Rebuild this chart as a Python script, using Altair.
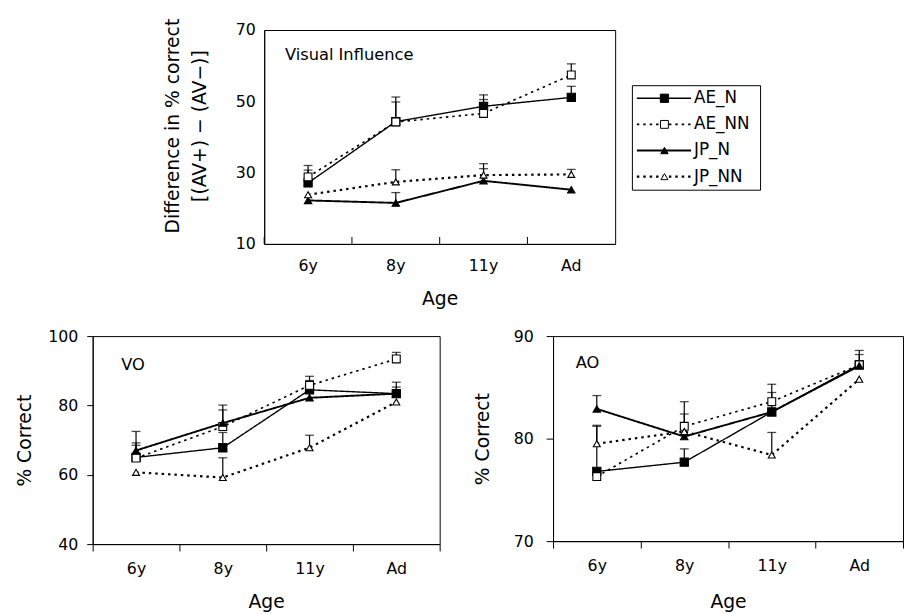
import altair as alt
import pandas as pd

ages = ["6y", "8y", "11y", "Ad"]
series = ["AE_N", "AE_NN", "JP_N", "JP_NN"]
panel_labels = ["Visual Influence", "VO", "AO"]

# Visual Influence panel: means and upper error-bar ends
vi_vals = {
    "AE_N": [27.1, 44.3, 48.6, 51.1],
    "AE_NN": [28.8, 44.2, 46.6, 57.4],
    "JP_N": [22.2, 21.5, 27.7, 25.2],
    "JP_NN": [23.8, 27.4, 29.3, 29.5],
}
vi_hi = {
    "AE_N": [30.7, 49.8, 51.8, 54.2],
    "AE_NN": [32.0, 51.2, 50.5, 60.5],
    "JP_N": [None, 24.4, 31.1, None],
    "JP_NN": [None, 30.8, 32.5, 30.9],
}

# VO panel
vo_vals = {
    "AE_N": [65.0, 67.8, 84.5, 83.4],
    "AE_NN": [64.8, 73.9, 85.8, 93.4],
    "JP_N": [67.0, 74.9, 82.2, 83.4],
    "JP_NN": [60.7, 59.2, 67.8, 81.0],
}
vo_hi = {
    "AE_N": [69.2, 72.2, 87.2, 86.7],
    "AE_NN": [68.5, 78.7, 88.4, 95.3],
    "JP_N": [72.5, 80.1, None, 85.3],
    "JP_NN": [None, 64.9, 71.4, None],
}

# AO panel
ao_vals = {
    "AE_N": [76.8, 77.7, 82.6, 87.2],
    "AE_NN": [76.3, 81.2, 83.6, 87.2],
    "JP_N": [82.9, 80.2, 82.6, 87.1],
    "JP_NN": [79.5, 80.7, 78.4, 85.8],
}
ao_hi = {
    "AE_N": [81.2, 79.0, 84.5, 88.2],
    "AE_NN": [None, 83.6, 85.3, 88.6],
    "JP_N": [84.2, 82.4, None, None],
    "JP_NN": [81.3, None, 80.6, None],
}

FONT = "DejaVu Sans"


def make_df(vals, his):
    rows = []
    for s in series:
        for a, v, h in zip(ages, vals[s], his[s]):
            rows.append({"series": s, "age": a, "val": v, "hi": h})
    return pd.DataFrame(rows)


shape_scale = alt.Scale(domain=series, range=["square", "square", "triangle-up", "triangle-up"])
fill_scale = alt.Scale(domain=series, range=["black", "white", "black", "white"])
dash_scale = alt.Scale(domain=series, range=[[1, 0], [2.5, 4], [1, 0], [2.5, 4]])
width_scale = alt.Scale(domain=series, range=[1.4, 2.2, 1.4, 2.2])
size_scale = alt.Scale(domain=series, range=[70, 50, 100, 85])


def panel(df, ydom, yaxis, xaxis, w, h, label, lx, ly, inward_ticks=False):
    xs = alt.Scale(type="band", domain=ages, paddingInner=0, paddingOuter=0)
    x = alt.X("age:N", sort=ages, scale=xs, axis=xaxis, bandPosition=0.5)
    ys = alt.Scale(domain=ydom, nice=False, zero=False)
    y = alt.Y("val:Q", scale=ys, axis=yaxis)
    base = alt.Chart(df)
    lines = base.mark_line(color="black").encode(
        x=x, y=y,
        strokeDash=alt.StrokeDash("series:N", scale=dash_scale, legend=None),
        strokeWidth=alt.StrokeWidth("series:N", scale=width_scale, legend=None),
    )
    errs = base.transform_filter("isValid(datum.hi)").mark_rule(color="black", strokeWidth=1.2).encode(
        x=x, y=y, y2=alt.Y2("hi:Q")
    )
    caps = base.transform_filter("isValid(datum.hi)").mark_tick(
        color="black", thickness=1.3, size=9, orient="horizontal"
    ).encode(x=x, y=alt.Y("hi:Q", scale=ys, axis=yaxis))
    pts = base.mark_point(filled=True, stroke="black", strokeWidth=1.1, opacity=1).encode(
        x=x, y=y,
        shape=alt.Shape("series:N", scale=shape_scale, legend=None),
        fill=alt.Fill("series:N", scale=fill_scale, legend=None),
        size=alt.Size("series:N", scale=size_scale, legend=None),
    )
    txt = alt.Chart(pd.DataFrame({"t": [label]})).mark_text(
        align="left", baseline="middle", fontSize=16.5, font=FONT, color="black"
    ).encode(x=alt.value(lx), y=alt.value(ly), text="t:N")
    layers = [lines, errs, caps, pts, txt]
    if inward_ticks:
        tk = alt.Chart(pd.DataFrame({"age": ages})).mark_rule(color="black", strokeWidth=1).encode(
            x=alt.X("age:N", sort=ages, scale=xs, axis=xaxis, bandPosition=0),
            y=alt.value(h), y2=alt.value(h - 7),
        )
        layers.append(tk)
    return alt.layer(*layers).properties(width=w, height=h)


# Top panel
top_x = alt.Axis(title="Age", labelAngle=0, ticks=False, labelPadding=14, titlePadding=16)
top_y = alt.Axis(
    title=["Difference in % correct", "[(AV+) − (AV−)]"],
    values=[10, 30, 50, 70], ticks=False, labelPadding=9, titlePadding=26,
    titleLineHeight=28, titleY=97,
)
top = panel(make_df(vi_vals, vi_hi), [10, 70], top_y, top_x, 356, 217,
            panel_labels[0], 21, 25, inward_ticks=True)

# Bottom-left panel (VO)
bl_x = alt.Axis(title="Age", labelAngle=0, tickSize=7, tickBand="extent", labelPadding=10, titlePadding=16)
bl_y = alt.Axis(title="% Correct", values=[40, 60, 80, 100], tickSize=6, labelPadding=9, titlePadding=14)
bl = panel(make_df(vo_vals, vo_hi), [40, 100], bl_y, bl_x, 352, 211, panel_labels[1], 29, 29)

# Bottom-right panel (AO)
br_x = alt.Axis(title="Age", labelAngle=0, tickSize=7, tickBand="extent", labelPadding=10, titlePadding=19)
br_y = alt.Axis(title="% Correct", values=[70, 80, 90], tickSize=7, labelPadding=13, titlePadding=21)
br = panel(make_df(ao_vals, ao_hi), [70, 90], br_y, br_x, 355, 208, panel_labels[2], 23, 27)

# Legend
leg_df = pd.DataFrame({"series": series})
ly = alt.Y("series:N", scale=alt.Scale(type="point", domain=series, padding=0.5), axis=None)
leg_base = alt.Chart(leg_df)
leg_rule = leg_base.mark_rule(color="black").encode(
    y=ly, x=alt.value(5), x2=alt.value(60),
    strokeDash=alt.StrokeDash("series:N", scale=dash_scale, legend=None),
    strokeWidth=alt.StrokeWidth("series:N", scale=alt.Scale(domain=series, range=[1.4, 1.2, 1.4, 1.2]), legend=None),
)
leg_pts = leg_base.mark_point(filled=True, stroke="black", strokeWidth=1, opacity=1).encode(
    y=ly, x=alt.value(33),
    shape=alt.Shape("series:N", scale=shape_scale, legend=None),
    fill=alt.Fill("series:N", scale=fill_scale, legend=None),
    size=alt.Size("series:N", scale=alt.Scale(domain=series, range=[50, 38, 70, 60]), legend=None),
)
leg_txt = leg_base.mark_text(align="left", baseline="middle", fontSize=17, font=FONT, color="black").encode(
    y=ly, x=alt.value(63), text="series:N"
)
legend = alt.layer(leg_rule, leg_pts, leg_txt).properties(width=130, height=106)

spacer = alt.Chart(pd.DataFrame({"a": [0]})).mark_rule(opacity=0).encode(
    x=alt.value(0), x2=alt.value(55), y=alt.value(0)
).properties(width=55, height=1, view=alt.ViewBackground(stroke="transparent"))
vspacer = alt.Chart(pd.DataFrame({"a": [0]})).mark_rule(opacity=0).encode(
    x=alt.value(0), y=alt.value(0), y2=alt.value(54)
).properties(width=1, height=54, view=alt.ViewBackground(stroke="transparent"))

top_row = alt.hconcat(spacer, top, alt.vconcat(vspacer, legend, spacing=0), spacing=15)
bottom_row = alt.hconcat(bl, br, spacing=33)

chart = alt.vconcat(top_row, bottom_row, spacing=18.5).properties(
    padding={"left": 14, "top": 13, "right": 0, "bottom": 0}
).configure_axis(
    domainColor="black", tickColor="black", labelColor="black", titleColor="black",
    labelFont=FONT, titleFont=FONT, titleFontWeight="normal", grid=False,
    labelFontSize=16, titleFontSize=19, domainWidth=1, tickWidth=1,
).configure_view(stroke="black", strokeWidth=1).configure_text(font=FONT)

chart.save("out.html", embed_options={"renderer": "svg", "actions": False})
